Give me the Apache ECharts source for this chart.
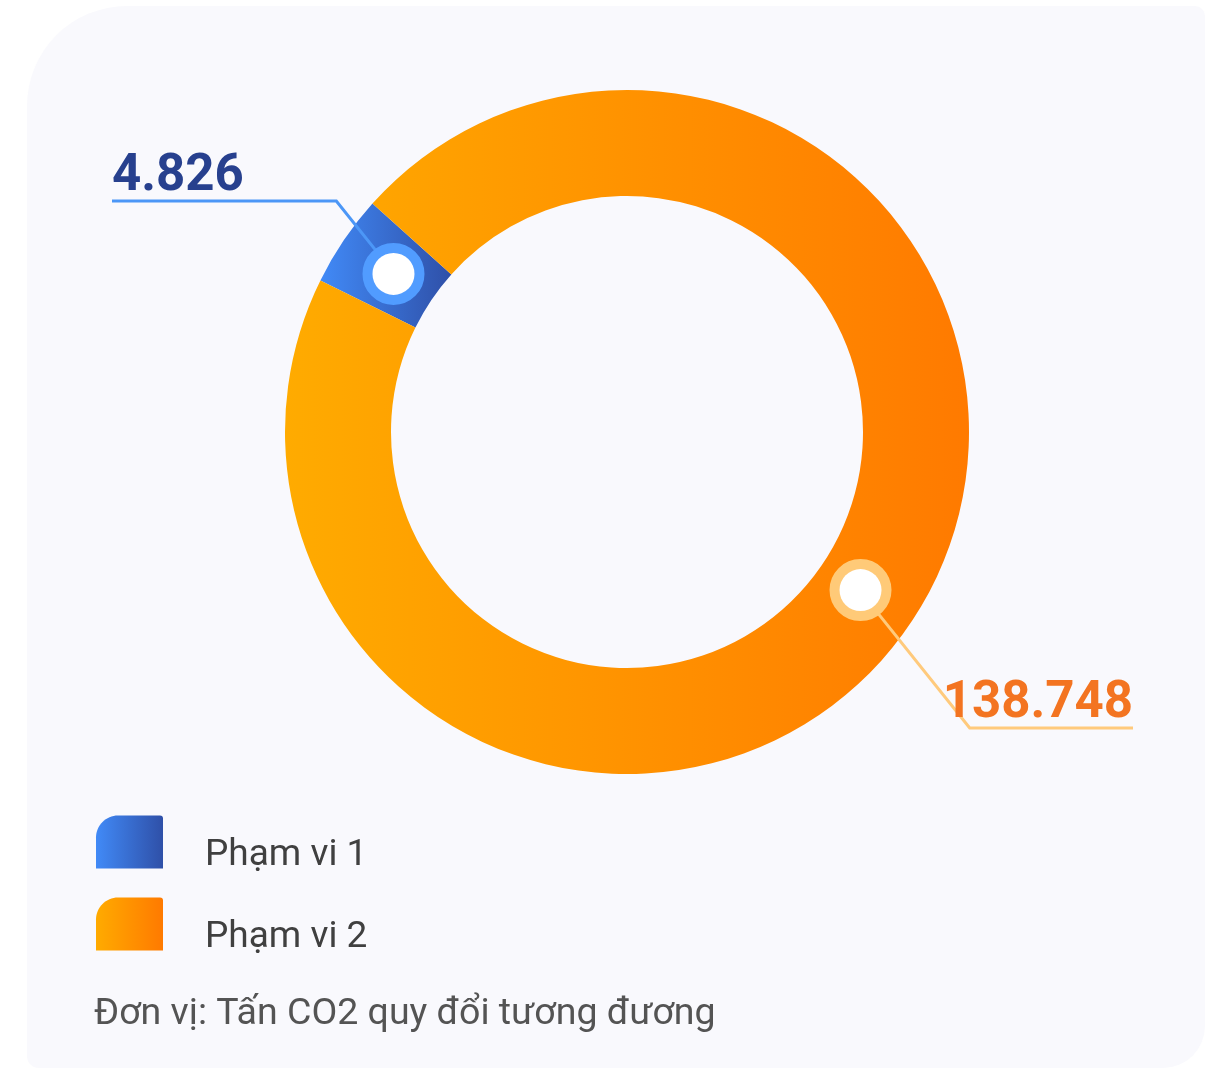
<!DOCTYPE html>
<html><head><meta charset="utf-8">
<script src="https://cdn.jsdelivr.net/npm/echarts@6/dist/echarts.min.js"></script>
<style>html,body{margin:0;padding:0;background:#fff}#c{width:1205px;height:1069px}</style>
</head><body><div id="c"></div>
<script>
// ---- data ----
const categories = ['Phạm vi 1', 'Phạm vi 2'];
const values = [4826, 138748];
const unitNote = 'Đơn vị: Tấn CO2 quy đổi tương đương';

// ---- styles ----
const sliceColors = [['#418af7', '#2f50a8'], ['#ffab00', '#ff7a00']];
const textColors = ['#27408e', '#f37421'];
const lineColors = ['#4c97f7', '#ffca7c'];
const ringColors = ['#519cff', '#ffca78'];
const lineLen = [133, 249];
const edgeDist = [112, 72];

const fmt = v => String(v).replace(/\B(?=(\d{3})+(?!\d))/g, '.');
const grad = (a, b) => new echarts.graphic.LinearGradient(0, 0, 1, 0, [{offset: 0, color: a}, {offset: 1, color: b}]);

const chart = echarts.init(document.getElementById('c'), null, {renderer: 'canvas'});

const common = {
  type: 'pie', center: [627, 432], startAngle: 153.7, minAngle: 15.6, clockwise: true,
  emphasis: {disabled: true}, legendHoverLink: false
};

const option = {
  animation: false,
  backgroundColor: '#ffffff',
  graphic: [{
    type: 'rect', left: 27, top: 6, z: -1, silent: true,
    shape: {width: 1178, height: 1062, r: [100, 10, 42, 12]},
    style: {fill: '#f9f9fd'}
  }],
  title: {
    text: unitNote, left: 94, top: 996, padding: 0,
    textStyle: {fontFamily: 'Roboto', fontSize: 37.5, fontWeight: 'normal', color: '#545454'}
  },
  legend: {
    orient: 'vertical', left: 96, top: 810, padding: 0,
    itemWidth: 67, itemHeight: 53, itemGap: 18, selectedMode: false,
    icon: 'path://M0,53 L0,22 C0,10 10,0 22,0 L64,0 Q67,0 67,3 L67,53 Z',
    formatter: name => '\n' + name,
    textStyle: {fontFamily: 'Roboto', fontSize: 37, lineHeight: 27, color: '#404040', padding: [0, 0, 0, 37]},
    data: categories
  },
  series: [
    Object.assign({}, common, {
      name: 'ring', z: 2, radius: [236, 342],
      label: {show: false}, labelLine: {show: false},
      data: categories.map((n, i) => ({
        name: n, value: values[i],
        itemStyle: {color: grad(sliceColors[i][0], sliceColors[i][1])}
      }))
    }),
    Object.assign({}, common, {
      name: 'lines', z: 3, radius: [0, 279], silent: true,
      itemStyle: {color: 'rgba(0,0,0,0)'},
      label: {
        show: true, position: 'outside', alignTo: 'edge',
        fontFamily: 'Roboto', fontWeight: 'bold', fontSize: 51, lineHeight: 48,
        width: 240,
        formatter: p => fmt(p.value) + '\n '
      },
      labelLine: {show: true, length: 120, length2: 10, lineStyle: {width: 3}},
      labelLayout: function (params) {
        const pts = params.labelLinePoints;
        if (!pts) return {};
        const r = params.labelRect;
        const isLeft = r.x + r.width / 2 < chart.getWidth() / 2;
        const p0 = [pts[0][0], pts[0][1]];
        const y = pts[2][1];
        const dy = Math.abs(y - p0[1]);
        const p1 = [p0[0] + (isLeft ? -1 : 1) * dy * 0.8, y];
        const p2 = [isLeft ? r.x : r.x + r.width, y];
        return {labelLinePoints: [p0, p1, p2]};
      },
      data: categories.map((n, i) => ({
        name: n, value: values[i],
        label: {color: textColors[i], edgeDistance: edgeDist[i]},
        labelLine: {length: lineLen[i], lineStyle: {color: lineColors[i], width: 3}}
      }))
    }),
    Object.assign({}, common, {
      name: 'markers', z: 4, radius: [236, 322], silent: true,
      itemStyle: {color: 'rgba(0,0,0,0)'},
      labelLine: {show: false},
      label: {show: true, position: 'inside', formatter: '{m|}'},
      data: categories.map((n, i) => ({
        name: n, value: values[i],
        label: {rich: {m: {width: 42, height: 42, borderRadius: 21, backgroundColor: '#ffffff', borderColor: ringColors[i], borderWidth: 10}}}
      }))
    })
  ]
};
chart.setOption(option);
</script>
</body></html>
